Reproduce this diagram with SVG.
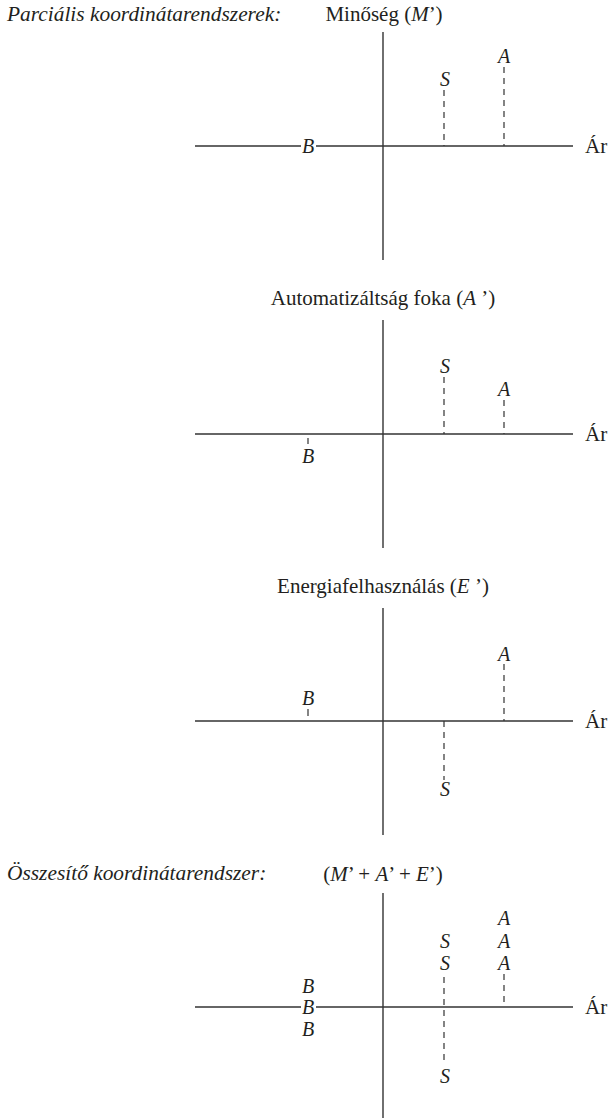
<svg xmlns="http://www.w3.org/2000/svg" width="608" height="1118" viewBox="0 0 608 1118">
<style>
  text { font-family: 'Liberation Serif', 'Times New Roman', serif; fill: #231f20; }
  .title { font-size: 21px; text-anchor: middle; }
  .cap { font-size: 21.4px; font-style: italic; }
  .lbl { font-size: 20px; font-style: italic; text-anchor: middle; }
  .ar { font-size: 21px; }
  .it { font-style: italic; }
  .axis { stroke: #333; stroke-width: 1.4; fill: none; }
  .dash { stroke: #333; stroke-width: 1.2; stroke-dasharray: 6 5; fill: none; }
  .tick { stroke: #333; stroke-width: 1.2; fill: none; }
</style>

<text class="cap" x="7" y="21">Parciális koordinátarendszerek:</text>
<text class="cap" x="7" y="880">Összesítő koordinátarendszer:</text>

<g id="panel-minoseg">
  <text class="title" x="384" y="21">Minőség (<tspan class="it">M</tspan>’)</text>
  <line class="axis" x1="383" y1="32" x2="383" y2="260"/>
  <line class="axis" x1="195" y1="146" x2="301" y2="146"/>
  <line class="axis" x1="316" y1="146" x2="573" y2="146"/>
  <text class="ar" x="585" y="153">Ár</text>
  <text class="lbl" x="308" y="153">B</text>
  <text class="lbl" x="445" y="86">S</text>
  <text class="lbl" x="504" y="63">A</text>
</g>

<g id="panel-automatizaltsag">
  <text class="title" x="383" y="305">Automatizáltság foka (<tspan class="it">A</tspan> ’)</text>
  <line class="axis" x1="383" y1="320" x2="383" y2="548"/>
  <line class="axis" x1="195" y1="434" x2="573" y2="434"/>
  <text class="ar" x="585" y="441">Ár</text>
  <text class="lbl" x="308" y="463">B</text>
  <text class="lbl" x="445" y="373">S</text>
  <text class="lbl" x="504" y="396">A</text>
</g>

<g id="panel-energia">
  <text class="title" x="383" y="593">Energiafelhasználás (<tspan class="it">E</tspan> ’)</text>
  <line class="axis" x1="383" y1="608" x2="383" y2="835"/>
  <line class="axis" x1="195" y1="721" x2="573" y2="721"/>
  <text class="ar" x="585" y="728">Ár</text>
  <text class="lbl" x="308" y="705">B</text>
  <text class="lbl" x="445" y="796">S</text>
  <text class="lbl" x="504" y="661">A</text>
</g>

<g id="panel-osszesito">
  <text class="title" x="383" y="881">(<tspan class="it">M</tspan>’ + <tspan class="it">A</tspan>’ + <tspan class="it">E</tspan>’)</text>
  <line class="axis" x1="383" y1="893" x2="383" y2="1118"/>
  <line class="axis" x1="195" y1="1007" x2="301" y2="1007"/>
  <line class="axis" x1="316" y1="1007" x2="573" y2="1007"/>
  <text class="ar" x="585" y="1014">Ár</text>
  <text class="lbl" x="308" y="993">B</text>
  <text class="lbl" x="308" y="1014">B</text>
  <text class="lbl" x="308" y="1036">B</text>
  <text class="lbl" x="445" y="948">S</text>
  <text class="lbl" x="445" y="970">S</text>
  <text class="lbl" x="445" y="1083">S</text>
  <text class="lbl" x="504" y="925">A</text>
  <text class="lbl" x="504" y="948">A</text>
  <text class="lbl" x="504" y="970">A</text>
</g>

<g id="connectors">
  <line class="dash" x1="444" y1="90" x2="444" y2="146"/>
  <line class="dash" x1="504" y1="67" x2="504" y2="146"/>
  <line class="dash" x1="444" y1="377" x2="444" y2="434"/>
  <line class="dash" x1="504" y1="400" x2="504" y2="434"/>
  <line class="tick" x1="308" y1="438" x2="308" y2="444"/>
  <line class="dash" x1="504" y1="664" x2="504" y2="721"/>
  <line class="tick" x1="308" y1="709" x2="308" y2="716"/>
  <line class="dash" x1="444" y1="721" x2="444" y2="780"/>
  <line class="dash" x1="444" y1="977" x2="444" y2="1064"/>
  <line class="dash" x1="504" y1="974" x2="504" y2="1007"/>
</g>
</svg>
